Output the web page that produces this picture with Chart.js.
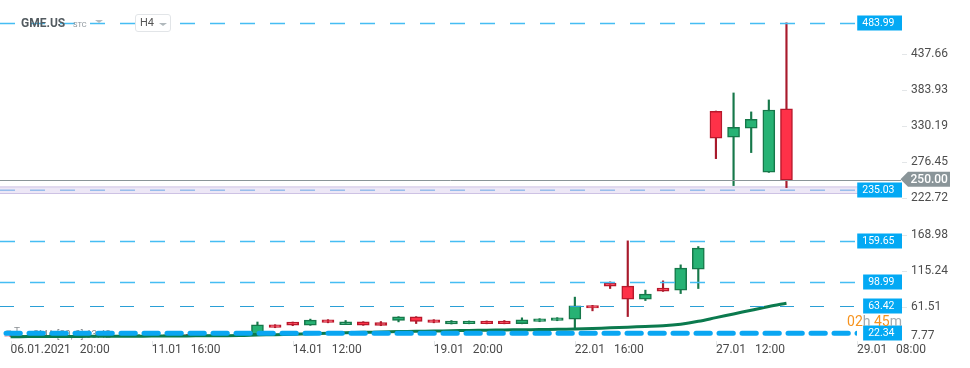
<!DOCTYPE html>
<html>
<head>
<meta charset="utf-8">
<script src="https://cdn.jsdelivr.net/npm/chart.js@4.4.1/dist/chart.umd.min.js"></script>
<style>
html,body{margin:0;padding:0;background:#fff;}
#wrap{position:relative;width:970px;height:368px;font-family:Roboto,"Noto Sans",sans-serif;overflow:hidden;}
#c{position:absolute;left:0;top:0;}
.sym{position:absolute;left:21px;top:16px;font-size:12px;font-weight:bold;color:#535b60;line-height:14px;}
.stc{position:absolute;left:73px;top:20px;font-size:7.5px;color:#8c959b;line-height:9px;}
.tri{position:absolute;width:0;height:0;border-left:4px solid transparent;border-right:4px solid transparent;border-top:3px solid #b5bcc0;}
.tf{position:absolute;left:135px;top:14px;width:34px;height:16px;border:1px solid #e2e5e8;border-radius:3px;background:#fff;}
.tf span{position:absolute;left:4px;top:2px;font-size:11px;color:#555;line-height:12px;}
</style>
</head>
<body>
<div id="wrap">
  <canvas id="c" width="970" height="368"></canvas>
  <div class="sym">GME.US</div>
  <div class="stc">STC</div>
  <div class="tri" style="left:95px;top:20px;"></div>
  <div class="tf"><span>H4</span><div class="tri" style="left:23px;top:8px;border-top-color:#b0b8bc;"></div></div>
</div>
<script>
// ---- data ----
const xTickIdx    = [0, 8, 16, 24, 32, 40, 48];
const xTickLabels = ['06.01.2021   20:00', '11.01   16:00', '14.01   12:00', '19.01   20:00', '22.01   16:00', '27.01   12:00', '29.01   08:00'];
const yTicks      = [7.77, 61.51, 115.24, 168.98, 222.72, 276.45, 330.19, 383.93, 437.66];

const opens  = [18.6, 18.4, 18.9, 18.2, 18.2, 17.4, 17.8, 19.4, 20.2, 19.8, 20.0, 19.6, 19.8, 20.4,
                21.0, 34.8, 38.8, 34.3, 42.2, 35.2, 39.2, 38.2, 41.2, 46.7, 42.2, 36.3, 36.7, 40.3, 40.3,
                36.7, 39.7, 41.2, 43.3, 63.3, 96.8, 92.3, 73.0, 89.4, 86.4, 117.6, 352.5, 313.9, 327.2, 261.8, 355.9];
const highs  = [19.0, 19.4, 19.5, 18.6, 18.3, 17.9, 18.0, 20.6, 20.5, 20.1, 20.4, 20.0, 20.1, 21.0,
                39.0, 35.0, 39.0, 43.3, 42.5, 41.2, 39.5, 39.7, 47.0, 47.0, 42.5, 41.2, 40.5, 40.6, 41.2,
                45.2, 44.0, 45.5, 76.0, 63.8, 98.7, 159.7, 86.4, 100.2, 124.0, 151.2, 352.8, 379.7, 351.5, 369.3, 483.99];
const lows   = [17.6, 18.1, 18.0, 17.9, 17.1, 17.1, 17.5, 19.1, 19.6, 19.5, 19.4, 19.3, 19.6, 20.0,
                20.2, 30.5, 33.5, 34.0, 37.8, 35.0, 34.0, 33.5, 39.2, 36.7, 37.8, 36.0, 36.3, 36.3, 36.3,
                36.3, 39.4, 40.9, 29.0, 55.6, 88.8, 47.1, 70.9, 84.5, 81.3, 88.8, 282.0, 241.9, 291.0, 261.5, 238.9];
const closes = [17.9, 18.9, 18.2, 18.1, 17.4, 17.8, 17.7, 20.2, 19.8, 19.9, 19.6, 19.8, 19.9, 20.6,
                34.8, 31.0, 34.3, 41.8, 38.2, 39.2, 34.3, 33.8, 46.7, 39.7, 38.2, 40.3, 40.3, 36.7, 36.7,
                42.2, 43.7, 45.2, 63.0, 59.9, 92.3, 73.0, 80.4, 84.9, 119.1, 148.8, 312.4, 328.7, 340.6, 354.4, 250.0];
const sma20  = [17.2, 17.3, 17.4, 17.5, 17.6, 17.7, 17.8, 17.9, 18.0, 18.2, 18.3, 18.5, 18.6, 18.8,
                19.6, 20.2, 20.9, 21.7, 22.4, 23.0, 23.6, 24.1, 24.7, 25.2, 25.6, 26.0, 26.4, 26.8, 27.1,
                27.5, 27.8, 28.1, 28.6, 29.3, 30.3, 31.3, 32.3, 33.4, 35.8, 40.0, 45.5, 51.0, 56.5, 62.0, 67.0];

const levelValues = [483.99, 159.65, 98.99, 63.42];
const smaValue    = 63.42;
const bandValue   = 235.03;
const stopValue   = 22.34;
const lastPrice   = 250.00;
const countdown   = ['02', 'h', ' 45', 'm'];
const legendText  = 'SMA [20, 0] 63.42';

// ---- chart ----
const idx = opens.map((_, i) => i);
const up = i => closes[i] >= opens[i];
const bodyData = idx.map(i => ({x: i, y: [opens[i], closes[i]]}));
const wickData = idx.map(i => ({x: i, y: [lows[i], highs[i]]}));
const smaData  = idx.map(i => ({x: i, y: sma20[i]}));

const PLOT_RIGHT = 857;
function dashedLine(ctx, y, x0, x1, color, width, dash, cap) {
  ctx.save();
  ctx.strokeStyle = color; ctx.lineWidth = width; ctx.setLineDash(dash);
  ctx.lineCap = cap || 'butt';
  ctx.beginPath(); ctx.moveTo(x0, y); ctx.lineTo(x1, y); ctx.stroke();
  ctx.restore();
}
function tag(ctx, v, yPix) {
  const t = v.toFixed(2);
  ctx.save();
  ctx.font = '10.5px Roboto';
  const w = ctx.measureText(t).width;
  const textRight = 894.5, right = 902;
  const left = textRight - w - 5;
  ctx.fillStyle = '#03a9f4';
  ctx.fillRect(left, Math.round(yPix) - 7.5, right - left, 15);
  ctx.fillStyle = '#ffffff'; ctx.textAlign = 'right'; ctx.textBaseline = 'middle';
  ctx.fillText(t, textRight, Math.round(yPix) + 0.5);
  ctx.restore();
}

const overlay = {
  id: 'overlay',
  beforeDatasetsDraw(chart) {
    const {ctx, scales: {x, y}, chartArea} = chart;
    // small axis tick marks
    ctx.save();
    ctx.strokeStyle = '#e3e6e8'; ctx.lineWidth = 1;
    ctx.beginPath();
    xTickIdx.forEach(v => {
      const xp = Math.round(x.getPixelForValue(v)) + 0.5;
      ctx.moveTo(xp, chartArea.bottom - 2); ctx.lineTo(xp, chartArea.bottom + 2);
    });
    yTicks.forEach((v, i) => {
      if (i === 0) return;
      const yp = Math.round(y.getPixelForValue(v)) + 0.5;
      ctx.moveTo(902, yp); ctx.lineTo(907, yp);
    });
    ctx.stroke();
    ctx.restore();

    const yb = y.getPixelForValue(bandValue);
    ctx.save();
    ctx.fillStyle = '#ede7f6';
    ctx.fillRect(0, yb - 3.3, PLOT_RIGHT + 1, 6.6);
    ctx.strokeStyle = '#cdc2e4'; ctx.lineWidth = 1;
    ctx.beginPath();
    ctx.moveTo(0, yb - 3.3); ctx.lineTo(PLOT_RIGHT + 1, yb - 3.3);
    ctx.moveTo(0, yb + 3.3); ctx.lineTo(PLOT_RIGHT + 1, yb + 3.3);
    ctx.stroke();
    ctx.restore();
    dashedLine(ctx, yb, 0, PLOT_RIGHT, '#8ab6ea', 1.3, [15, 15]);
    // faint indicator legend (mostly hidden in reference)
    ctx.save();
    ctx.font = '10px Roboto'; ctx.fillStyle = '#8a8f93'; ctx.textBaseline = 'middle';
    ctx.fillText(legendText, 33, y.getPixelForValue(stopValue) + 2);
    ctx.fillText('\u2261 T.', 6, y.getPixelForValue(stopValue) - 1);
    ctx.restore();
  },
  afterDatasetsDraw(chart) {
    const {ctx, scales: {y}} = chart;
    levelValues.forEach(v => {
      const yp = Math.round(y.getPixelForValue(v)) + 0.5;
      if (v === smaValue) dashedLine(ctx, yp, 0, PLOT_RIGHT, '#2a9fd6', 1, [14, 16]);
      else dashedLine(ctx, yp, 0, PLOT_RIGHT, '#45bdf3', 1.4, [15, 15]);
    });
    // thick stop line
    const ys = y.getPixelForValue(stopValue);
    ctx.save();
    ctx.beginPath(); ctx.rect(0, 0, PLOT_RIGHT, 368); ctx.clip();
    dashedLine(ctx, ys, 6, PLOT_RIGHT + 4, '#0aa6f2', 5, [14.3, 8.7], 'round');
    ctx.restore();
    // last price line
    const yl = Math.round(y.getPixelForValue(lastPrice)) + 0.5;
    ctx.save();
    ctx.strokeStyle = '#8a9598'; ctx.lineWidth = 1;
    ctx.beginPath(); ctx.moveTo(0, yl); ctx.lineTo(901, yl); ctx.stroke();
    ctx.restore();
  },
  afterDraw(chart) {
    const {ctx, scales: {y}} = chart;
    levelValues.forEach(v => tag(ctx, v, y.getPixelForValue(v)));
    tag(ctx, bandValue, y.getPixelForValue(bandValue));
    tag(ctx, stopValue, y.getPixelForValue(stopValue));
    // last price tag with arrow
    const yl = y.getPixelForValue(lastPrice) - 0.8;
    ctx.save();
    ctx.fillStyle = '#8a9599';
    ctx.beginPath();
    ctx.moveTo(900.5, yl); ctx.lineTo(908, yl - 7.5); ctx.lineTo(950, yl - 7.5);
    ctx.lineTo(950, yl + 7.5); ctx.lineTo(908, yl + 7.5); ctx.closePath(); ctx.fill();
    ctx.fillStyle = '#ffffff'; ctx.font = '500 12px Roboto'; ctx.textBaseline = 'middle'; ctx.textAlign = 'left';
    ctx.fillText(lastPrice.toFixed(2), 910.5, yl + 0.5);
    ctx.restore();
    // countdown
    ctx.save();
    ctx.font = '14px Roboto'; ctx.textBaseline = 'middle'; ctx.textAlign = 'left';
    const widths = countdown.map(s => ctx.measureText(s).width);
    let x = 902 - widths.reduce((a, b) => a + b, 0);
    countdown.forEach((s, i) => {
      ctx.fillStyle = (i % 2 === 0) ? '#f7931e' : '#a3abb0';
      ctx.fillText(s, x, 322.5);
      x += widths[i];
    });
    ctx.restore();
  }
};

new Chart(document.getElementById('c'), {
  type: 'bar',
  data: {
    datasets: [
      { type: 'line', data: smaData, borderColor: '#0b7a4e', borderWidth: 3, pointRadius: 0,
        tension: 0.35, order: 0, fill: false },
      { data: bodyData, grouped: false, order: 1, barThickness: 12, borderWidth: 1.5, borderSkipped: false,
        backgroundColor: c => up(c.dataIndex) ? '#27b274' : '#fe3148',
        borderColor: c => up(c.dataIndex) ? '#16784a' : '#b8192c' },
      { data: wickData, grouped: false, order: 2, barThickness: 1.5, borderWidth: 0,
        backgroundColor: c => up(c.dataIndex) ? '#16784a' : '#a81a2c' }
    ]
  },
  options: {
    animation: false, responsive: false, maintainAspectRatio: false,
    layout: { padding: 0 },
    plugins: { legend: { display: false }, tooltip: { enabled: false } },
    scales: {
      x: {
        type: 'linear', min: -0.6, max: 48, offset: false,
        grid: { display: false, drawTicks: false }, border: { display: false },
        afterBuildTicks: s => { s.ticks = xTickIdx.map(v => ({ value: v })); },
        ticks: { align: 'start', maxRotation: 0, autoSkip: false, padding: 0, color: '#4a4a4a',
                 font: { family: 'Roboto', size: 12 },
                 callback: v => xTickLabels[xTickIdx.indexOf(v)] },
        afterFit: s => { s.height = 25; s.paddingLeft = 0; s.paddingRight = 0; }
      },
      y: {
        position: 'right', min: 7.77, max: 517.95,
        grid: { display: false, drawTicks: false }, border: { display: false },
        afterBuildTicks: s => { s.ticks = yTicks.map(v => ({ value: v })); },
        ticks: { padding: 54, autoSkip: false, color: '#4d4d4d', font: { family: 'Roboto', size: 12 },
                 callback: v => v === yTicks[0] ? [v.toFixed(2), ''] : v.toFixed(2) },
        afterFit: s => { s.width = 113; s.paddingTop = 0; s.paddingBottom = 0; }
      }
    }
  },
  plugins: [overlay]
});
</script>
</body>
</html>
